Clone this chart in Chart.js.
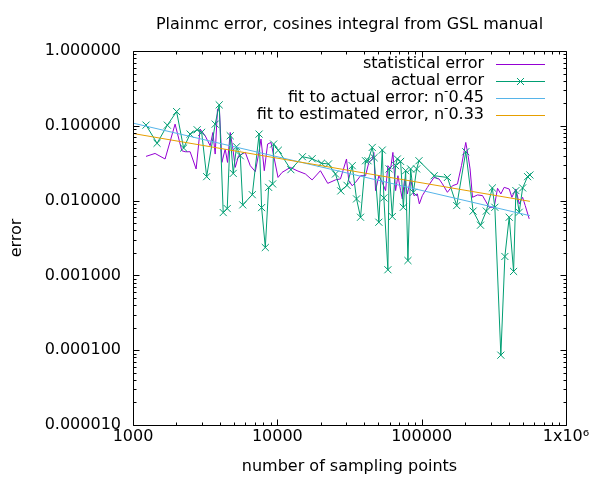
<!DOCTYPE html>
<html><head><meta charset="utf-8">
<script src="https://cdn.jsdelivr.net/npm/chart.js@4/dist/chart.umd.min.js"></script>
<style>html,body{margin:0;padding:0;background:#fff}#wrap{width:600px;height:480px}</style>
</head><body><div id="wrap"><canvas id="c" width="600" height="480"></canvas></div>
<script>
const titleText = 'Plainmc error, cosines integral from GSL manual';
const xLabel = 'number of sampling points';
const yLabel = 'error';
// each key entry: [text, superscript, text after superscript]
const seriesNames = [
  ['statistical error', '', ''],
  ['actual error', '', ''],
  ['fit to actual error: n', '-', '0.45'],
  ['fit to estimated error, n', '-', '0.33']
];
const xTickValues = [1000, 10000, 100000, 1000000];
const xTickLabels = ['1000', '10000', '100000', '1x10\u2076'];
const yTickValues = [1, 0.1, 0.01, 0.001, 0.0001, 0.00001];
const yTickLabels = ['1.000000', '0.100000', '0.010000', '0.001000', '0.000100', '0.000010'];

const statN = [1231,1422,1668,1957,2179,2297,2488,2738,2920,3162,3425,3577,3710,3849,3975,4130,4354,4517,4717,4925,5109,5386,5995,6494,7036,7417,7707,8122,8561,9042,10110,10780,12310,13700,15650,17420,19890,22350,25280,27380,30150,31270,33020,34810,37710,40840,43050,45460,46640,47920,50510,53340,56230,58340,60910,63200,65980,68460,71480,73450,76200,79560,83860,88420,93350,96380,101100,109600,121700,131900,139300,150800,163400,177000,188700,202100,209700,216500,225000,243700,264000,293400,317800,335600,353700,372900,404000,421700,449600,474000,500500,521800,556100];
const statErr = [0.0390,0.0427,0.0360,0.1053,0.0464,0.0450,0.0450,0.0265,0.0904,0.0736,0.0541,0.0814,0.0419,0.167,0.1585,0.0324,0.0489,0.0324,0.0814,0.0489,0.0278,0.0398,0.0441,0.0293,0.0244,0.0419,0.0665,0.0251,0.0570,0.0599,0.0204,0.0238,0.0278,0.0251,0.0227,0.0189,0.0251,0.0170,0.0189,0.0195,0.0360,0.0185,0.0158,0.0175,0.0215,0.0215,0.0324,0.0360,0.0441,0.0136,0.0215,0.0175,0.0136,0.0293,0.0265,0.0441,0.0136,0.0215,0.0136,0.01053,0.0195,0.01228,0.0195,0.01166,0.01228,0.00904,0.01166,0.01504,0.0204,0.0195,0.0167,0.0129,0.0158,0.0167,0.0293,0.0599,0.0398,0.0265,0.01107,0.0119,0.01166,0.00814,0.00814,0.0146,0.01228,0.01504,0.0143,0.01107,0.0143,0.00904,0.01107,0.00858,0.0057];

const actualN = [1231,1468,1730,2005,2242,2488,2783,2990,3239,3710,3956,4217,4496,4717,4948,5217,5535,5760,6706,7475,7780,8255,8700,9278,9426,10160,12410,14920,17420,20210,22610,25280,27520,30380,33020,35380,37710,40840,42500,45460,46780,50510,53340,54720,58340,59470,62600,65980,67810,71480,74640,77430,80330,83860,87580,92330,95790,122100,150800,175000,202100,227200,255600,280500,308800,321400,353700,377200,404000,433400,449600,474000,500500,542000,562300];
const actualErr = [0.1022,0.0584,0.102,0.155,0.0504,0.0775,0.0885,0.0819,0.0209,0.1053,0.1905,0.00692,0.00782,0.0736,0.0231,0.0525,0.0398,0.00876,0.0120,0.0775,0.00806,0.00236,0.01504,0.0167,0.0570,0.0471,0.0259,0.0386,0.0363,0.0316,0.0309,0.0227,0.01347,0.0160,0.0293,0.01053,0.00599,0.0341,0.0341,0.0514,0.0375,0.00514,0.0474,0.01086,0.00119,0.0265,0.00612,0.0293,0.0360,0.0334,0.00814,0.0251,0.00158,0.0265,0.0129,0.0265,0.0341,0.0215,0.0204,0.00858,0.045,0.00724,0.00469,0.00724,0.01477,0.00814,0.0000858,0.00179,0.00599,0.00113,0.0136,0.00698,0.01477,0.0209,0.022];

const fitN = [1000, 562300];
const fitActual = [0.1086, 0.00629];
const fitStat = [0.0789, 0.00977];

const colors = ['#9400d3', '#009e73', '#56b4e9', '#e69f00'];
const FONT = '"DejaVu Sans", sans-serif';

function pts(xs, ys) { return xs.map((x, i) => ({ x: x, y: ys[i] })); }

const gnuplotDecor = {
  id: 'gnuplotDecor',
  afterDatasetsDraw(chart) {
    const ctx = chart.ctx, a = chart.chartArea;
    const xs = chart.scales.x, ys = chart.scales.y;
    ctx.save();
    ctx.strokeStyle = '#000';
    ctx.lineWidth = 1;
    const L = Math.round(a.left) + 0.5, R = Math.round(a.right) + 0.5;
    const T = Math.round(a.top) + 0.5, B = Math.round(a.bottom) + 0.5;
    ctx.beginPath();
    ctx.rect(L, T, R - L, B - T);
    ctx.stroke();
    ctx.beginPath();
    for (let e = 3; e <= 6; e++) {
      for (let k = 1; k <= 9; k++) {
        const v = k * Math.pow(10, e);
        if (v > 1e6 + 1) break;
        const px = Math.round(xs.getPixelForValue(v)) + 0.5;
        const len = k === 1 ? 6 : 3;
        ctx.moveTo(px, B); ctx.lineTo(px, B - len);
        ctx.moveTo(px, T); ctx.lineTo(px, T + len);
      }
    }
    for (let e = -5; e <= 0; e++) {
      for (let k = 1; k <= 9; k++) {
        const v = k * Math.pow(10, e);
        if (v > 1.0000001) break;
        const py = Math.round(ys.getPixelForValue(v)) + 0.5;
        const len = k === 1 ? 6 : 3;
        ctx.moveTo(L, py); ctx.lineTo(L + len, py);
        ctx.moveTo(R, py); ctx.lineTo(R - len, py);
      }
    }
    ctx.stroke();

    ctx.fillStyle = '#000';
    ctx.font = '16px ' + FONT;
    ctx.textAlign = 'center';
    ctx.textBaseline = 'middle';
    ctx.fillText(titleText, (a.left + a.right) / 2, 25);
    ctx.fillText(xLabel, (a.left + a.right) / 2, 467);
    ctx.save();
    ctx.translate(17, (a.top + a.bottom) / 2);
    ctx.rotate(-Math.PI / 2);
    ctx.fillText(yLabel, 0, 0);
    ctx.restore();

    // key
    ctx.textAlign = 'left';
    for (let i = 0; i < seriesNames.length; i++) {
      const y = 64 + i * 17;
      const [t1, sup, t2] = seriesNames[i];
      ctx.font = '16px ' + FONT;
      const w1 = ctx.measureText(t1).width;
      const w3 = ctx.measureText(t2).width;
      ctx.font = '12px ' + FONT;
      const w2 = sup ? ctx.measureText(sup).width : 0;
      let x = 484 - w1 - w2 - w3;
      ctx.fillStyle = '#000';
      ctx.font = '16px ' + FONT;
      ctx.fillText(t1, x, y);
      x += w1;
      if (sup) {
        ctx.font = '12px ' + FONT;
        ctx.fillText(sup, x, y - 6);
        x += w2;
        ctx.font = '16px ' + FONT;
        ctx.fillText(t2, x, y);
      }
      ctx.strokeStyle = colors[i];
      ctx.beginPath();
      ctx.moveTo(496, Math.round(y) + 0.5);
      ctx.lineTo(545, Math.round(y) + 0.5);
      if (i === 1) {
        const cx = 520.5, cy = Math.round(y) + 0.5, d = 3.5;
        ctx.moveTo(cx - d, cy - d); ctx.lineTo(cx + d, cy + d);
        ctx.moveTo(cx - d, cy + d); ctx.lineTo(cx + d, cy - d);
      }
      ctx.stroke();
    }
    ctx.restore();
  }
};

new Chart(document.getElementById('c'), {
  type: 'scatter',
  data: {
    datasets: [
      { label: 'statistical error', data: pts(statN, statErr), showLine: true, borderColor: colors[0], backgroundColor: colors[0], borderWidth: 1, pointRadius: 0, order: 4 },
      { label: 'actual error', data: pts(actualN, actualErr), showLine: true, borderColor: colors[1], backgroundColor: colors[1], borderWidth: 1, pointStyle: 'crossRot', pointRadius: 5, pointBorderWidth: 1, pointBorderColor: colors[1], order: 3 },
      { label: 'fit to actual error', data: pts(fitN, fitActual), showLine: true, borderColor: colors[2], backgroundColor: colors[2], borderWidth: 1, pointRadius: 0, order: 2 },
      { label: 'fit to estimated error', data: pts(fitN, fitStat), showLine: true, borderColor: colors[3], backgroundColor: colors[3], borderWidth: 1, pointRadius: 0, order: 1 }
    ]
  },
  options: {
    responsive: false,
    animation: false,
    devicePixelRatio: 1,
    layout: { padding: { top: 51, right: 34, left: 0, bottom: 0 } },
    plugins: { legend: { display: false }, tooltip: { enabled: false }, title: { display: false } },
    scales: {
      x: {
        type: 'logarithmic', min: 1000, max: 1000000,
        grid: { display: false, drawTicks: false }, border: { display: false },
        afterBuildTicks: s => { s.ticks = xTickValues.map(v => ({ value: v })); },
        afterFit: s => { s.height = 55; },
        ticks: { autoSkip: false, maxRotation: 0, padding: 2, color: '#000', font: { family: FONT, size: 16 },
          callback: (v, i) => xTickLabels[i] }
      },
      y: {
        type: 'logarithmic', min: 0.00001, max: 1,
        grid: { display: false, drawTicks: false }, border: { display: false },
        afterBuildTicks: s => { s.ticks = yTickValues.slice().reverse().map(v => ({ value: v })); },
        afterFit: s => { s.width = 133; },
        ticks: { autoSkip: false, padding: 12, color: '#000', font: { family: FONT, size: 16 },
          callback: (v, i) => yTickLabels.slice().reverse()[i] }
      }
    }
  },
  plugins: [gnuplotDecor]
});
</script></body></html>
